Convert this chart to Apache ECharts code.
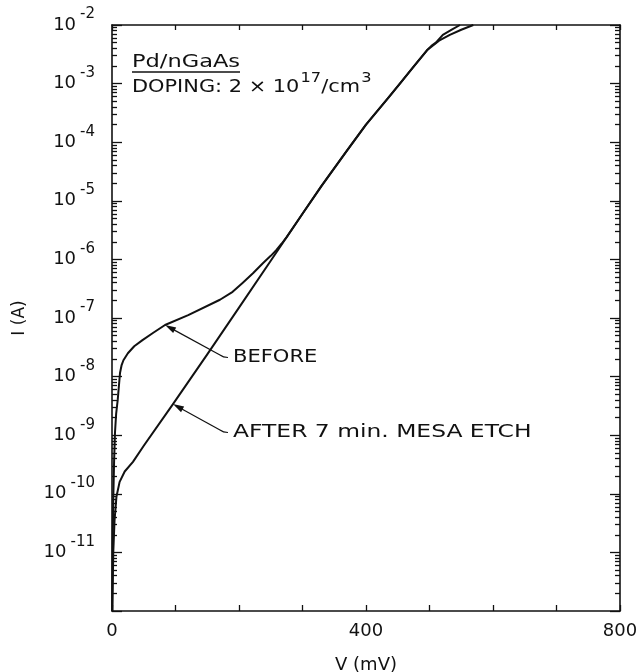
<!DOCTYPE html>
<html>
<head>
<meta charset="utf-8">
<script src="https://cdn.jsdelivr.net/npm/echarts@6/dist/echarts.min.js"></script>
<style>
  html, body { margin: 0; padding: 0; background: #fff; }
  #chart { width: 644px; height: 672px; }
</style>
</head>
<body>
<div id="chart"></div>
<script>
const FONT = '"DejaVu Sans", "Liberation Sans", sans-serif';
const INK = '#111';

// Forward I-V of the Pd/n-GaAs diode before the mesa etch (V in mV, I in A)
const beforeV = [0.3, 1, 2, 3.3, 4.7, 6.5, 9, 11, 12.6, 15, 18, 25, 35, 48, 65, 83.5, 120, 170, 190, 206, 222,
                 238, 250, 259, 267, 275, 300, 330, 370, 400, 436, 454, 475, 496, 503, 510, 521, 535, 548];
const beforeI = [1.0e-12, 1.3e-11, 8.0e-11, 3.6e-10, 1.1e-9, 2.3e-9, 4.0e-9, 7.2e-9, 1.15e-8, 1.55e-8, 1.9e-8,
                 2.5e-8, 3.3e-8, 4.2e-8, 5.6e-8, 7.6e-8, 1.12e-7, 2.05e-7, 2.8e-7, 4.0e-7, 5.8e-7,
                 8.7e-7, 1.15e-6, 1.45e-6, 1.85e-6, 2.4e-6, 6.0e-6, 1.8e-5, 7.2e-5, 2.0e-4, 5.9e-4, 1.02e-3,
                 1.95e-3, 3.7e-3, 4.4e-3, 5.0e-3, 6.8e-3, 8.3e-3, 1.0e-2];

// Same diode after a 7 min mesa etch
const afterV = [0.5, 2, 4, 7, 12, 20, 33, 50, 96, 150, 200, 250, 300, 330, 370, 400, 436, 454, 475, 496,
                515, 532, 550, 569];
const afterI = [1.0e-12, 1.0e-11, 3.5e-11, 8.9e-11, 1.6e-10, 2.4e-10, 3.5e-10, 6.6e-10, 3.4e-9, 2.4e-8,
                1.5e-7, 9.5e-7, 6.0e-6, 1.8e-5, 7.2e-5, 2.0e-4, 5.9e-4, 1.02e-3, 1.95e-3, 3.7e-3,
                5.4e-3, 6.8e-3, 8.3e-3, 1.0e-2];

// Axis ticks and labels
const xLabelValues = [0, 400, 800];
const decadeTicks = [1e-12, 1e-11, 1e-10, 1e-9, 1e-8, 1e-7, 1e-6, 1e-5, 1e-4, 1e-3, 1e-2];
const decadeLabels = [1e-11, 1e-10, 1e-9, 1e-8, 1e-7, 1e-6, 1e-5, 1e-4, 1e-3, 1e-2];
const minorTicks = [];
decadeTicks.slice(0, -1).forEach(d => { for (let k = 2; k <= 9; k++) minorTicks.push(k * d); });

const toPairs = (xs, ys) => xs.map((x, i) => [x, ys[i]]);

const chart = echarts.init(document.getElementById('chart'), null, { renderer: 'canvas' });

const tickStyle = { color: INK, width: 1.3 };
const lineStyle = { color: INK, width: 1.6 };

function logAxis(position, ticks, len, withLine, withLabels) {
  return {
    type: 'log', logBase: 10, min: 1e-12, max: 1e-2, position,
    axisLine: { show: withLine, lineStyle },
    axisTick: { show: true, inside: true, length: len, customValues: ticks, lineStyle: tickStyle },
    minorTick: { show: false },
    splitLine: { show: false },
    axisLabel: withLabels ? {
      show: true, margin: 17, customValues: decadeLabels, color: INK,
      formatter: v => '{b|10}{s|' + Math.round(Math.log10(v)) + '}',
      rich: {
        b: { fontSize: 18, fontFamily: FONT, color: INK, lineHeight: 36, verticalAlign: 'middle' },
        s: { fontSize: 15, fontFamily: FONT, color: INK, lineHeight: 15, verticalAlign: 'top', padding: [0, 0, 0, 4] }
      }
    } : { show: false }
  };
}

const option = {
  animation: false,
  backgroundColor: '#fff',
  grid: { left: 112, top: 25, width: 508, height: 586, outerBoundsMode: 'none', containLabel: false },
  xAxis: [
    {
      type: 'value', position: 'bottom', min: 0, max: 800, interval: 100,
      name: 'V (mV)', nameLocation: 'middle', nameGap: 45,
      nameTextStyle: { fontSize: 18, fontFamily: FONT, color: INK },
      axisLine: { show: true, lineStyle },
      axisTick: { show: true, inside: true, length: 6, lineStyle: tickStyle },
      splitLine: { show: false },
      axisLabel: { show: true, customValues: xLabelValues, margin: 11, fontSize: 18, fontFamily: FONT, color: INK }
    },
    {
      type: 'value', position: 'top', min: 0, max: 800, interval: 100,
      axisLine: { show: true, lineStyle },
      axisTick: { show: true, inside: true, length: 5, lineStyle: tickStyle },
      splitLine: { show: false },
      axisLabel: { show: false }
    }
  ],
  yAxis: [
    Object.assign(logAxis('left', decadeTicks, 10, true, true), {
      name: 'I (A)', nameLocation: 'middle', nameGap: 84, nameRotate: 90,
      nameTextStyle: { fontSize: 17, fontFamily: FONT, color: INK }
    }),
    logAxis('left', minorTicks, 5, false, false),
    logAxis('right', decadeTicks, 10, true, false),
    logAxis('right', minorTicks, 5, false, false)
  ],
  series: [
    {
      name: 'BEFORE', type: 'line', xAxisIndex: 0, yAxisIndex: 0,
      data: toPairs(beforeV, beforeI), showSymbol: false, symbol: 'none', smooth: false,
      lineStyle: { color: INK, width: 2, join: 'round' }, z: 3
    },
    {
      name: 'AFTER 7 min. MESA ETCH', type: 'line', xAxisIndex: 0, yAxisIndex: 0,
      data: toPairs(afterV, afterI), showSymbol: false, symbol: 'none', smooth: false,
      lineStyle: { color: INK, width: 2, join: 'round' }, z: 3
    }
  ]
};

chart.setOption(option);

// Leader arrows run from each label to a point on its curve
function leader(tip, elbow, hookCtrl, hookEnd) {
  const dx = elbow[0] - tip[0], dy = elbow[1] - tip[1];
  const len = Math.hypot(dx, dy);
  const ux = dx / len, uy = dy / len;
  const bx = tip[0] + ux * 11, by = tip[1] + uy * 11;
  const nx = -uy * 3.2, ny = ux * 3.2;
  return [
    { type: 'polygon', shape: { points: [tip, [bx + nx, by + ny], [bx - nx, by - ny]] }, style: { fill: INK }, z: 10 },
    { type: 'polyline', shape: { points: [[tip[0] + ux * 6, tip[1] + uy * 6], elbow] }, style: { stroke: INK, lineWidth: 1.2, fill: null }, z: 10 },
    { type: 'bezierCurve', shape: { x1: elbow[0], y1: elbow[1], cpx1: hookCtrl[0], cpy1: hookCtrl[1], x2: hookEnd[0], y2: hookEnd[1] }, style: { stroke: INK, lineWidth: 1.2, fill: null }, z: 10 }
  ];
}

const kb = beforeV.indexOf(83.5);
const ka = afterV.indexOf(96);
const tipBefore = chart.convertToPixel({ xAxisIndex: 0, yAxisIndex: 0 }, [beforeV[kb], beforeI[kb]]);
const tipAfter = chart.convertToPixel({ xAxisIndex: 0, yAxisIndex: 0 }, [afterV[ka], afterI[ka]]);

function label(text, x, y, sx) {
  return {
    type: 'text', x, y, scaleX: sx, z: 10,
    style: { text, fontSize: 18, fontFamily: FONT, fill: INK, align: 'left', verticalAlign: 'middle' }
  };
}

chart.setOption({
  graphic: [
    label('Pd/nGaAs', 132, 62, 1.25),
    { type: 'line', shape: { x1: 132, y1: 72, x2: 240, y2: 72 }, style: { stroke: INK, lineWidth: 1.5 }, z: 10 },
    {
      type: 'text', x: 132, y: 71, scaleX: 1.16, z: 10,
      style: {
        text: '{n|DOPING: 2 × 10}{s|17}{n|/cm}{s|3}',
        align: 'left', verticalAlign: 'top',
        rich: {
          n: { fontSize: 18, fontFamily: FONT, fill: INK, lineHeight: 25, verticalAlign: 'bottom' },
          s: { fontSize: 14, fontFamily: FONT, fill: INK, lineHeight: 14, verticalAlign: 'top', padding: [0, 0, 0, 1] }
        }
      }
    },
    label('BEFORE', 233, 357, 1.17),
    label('AFTER 7 min. MESA ETCH', 233, 432, 1.3),
    ...leader(tipBefore, [220, 355], [223, 357.5], [228, 357.5]),
    ...leader(tipAfter, [220, 430], [223, 432.5], [228, 432.5])
  ]
});
</script>
</body>
</html>
